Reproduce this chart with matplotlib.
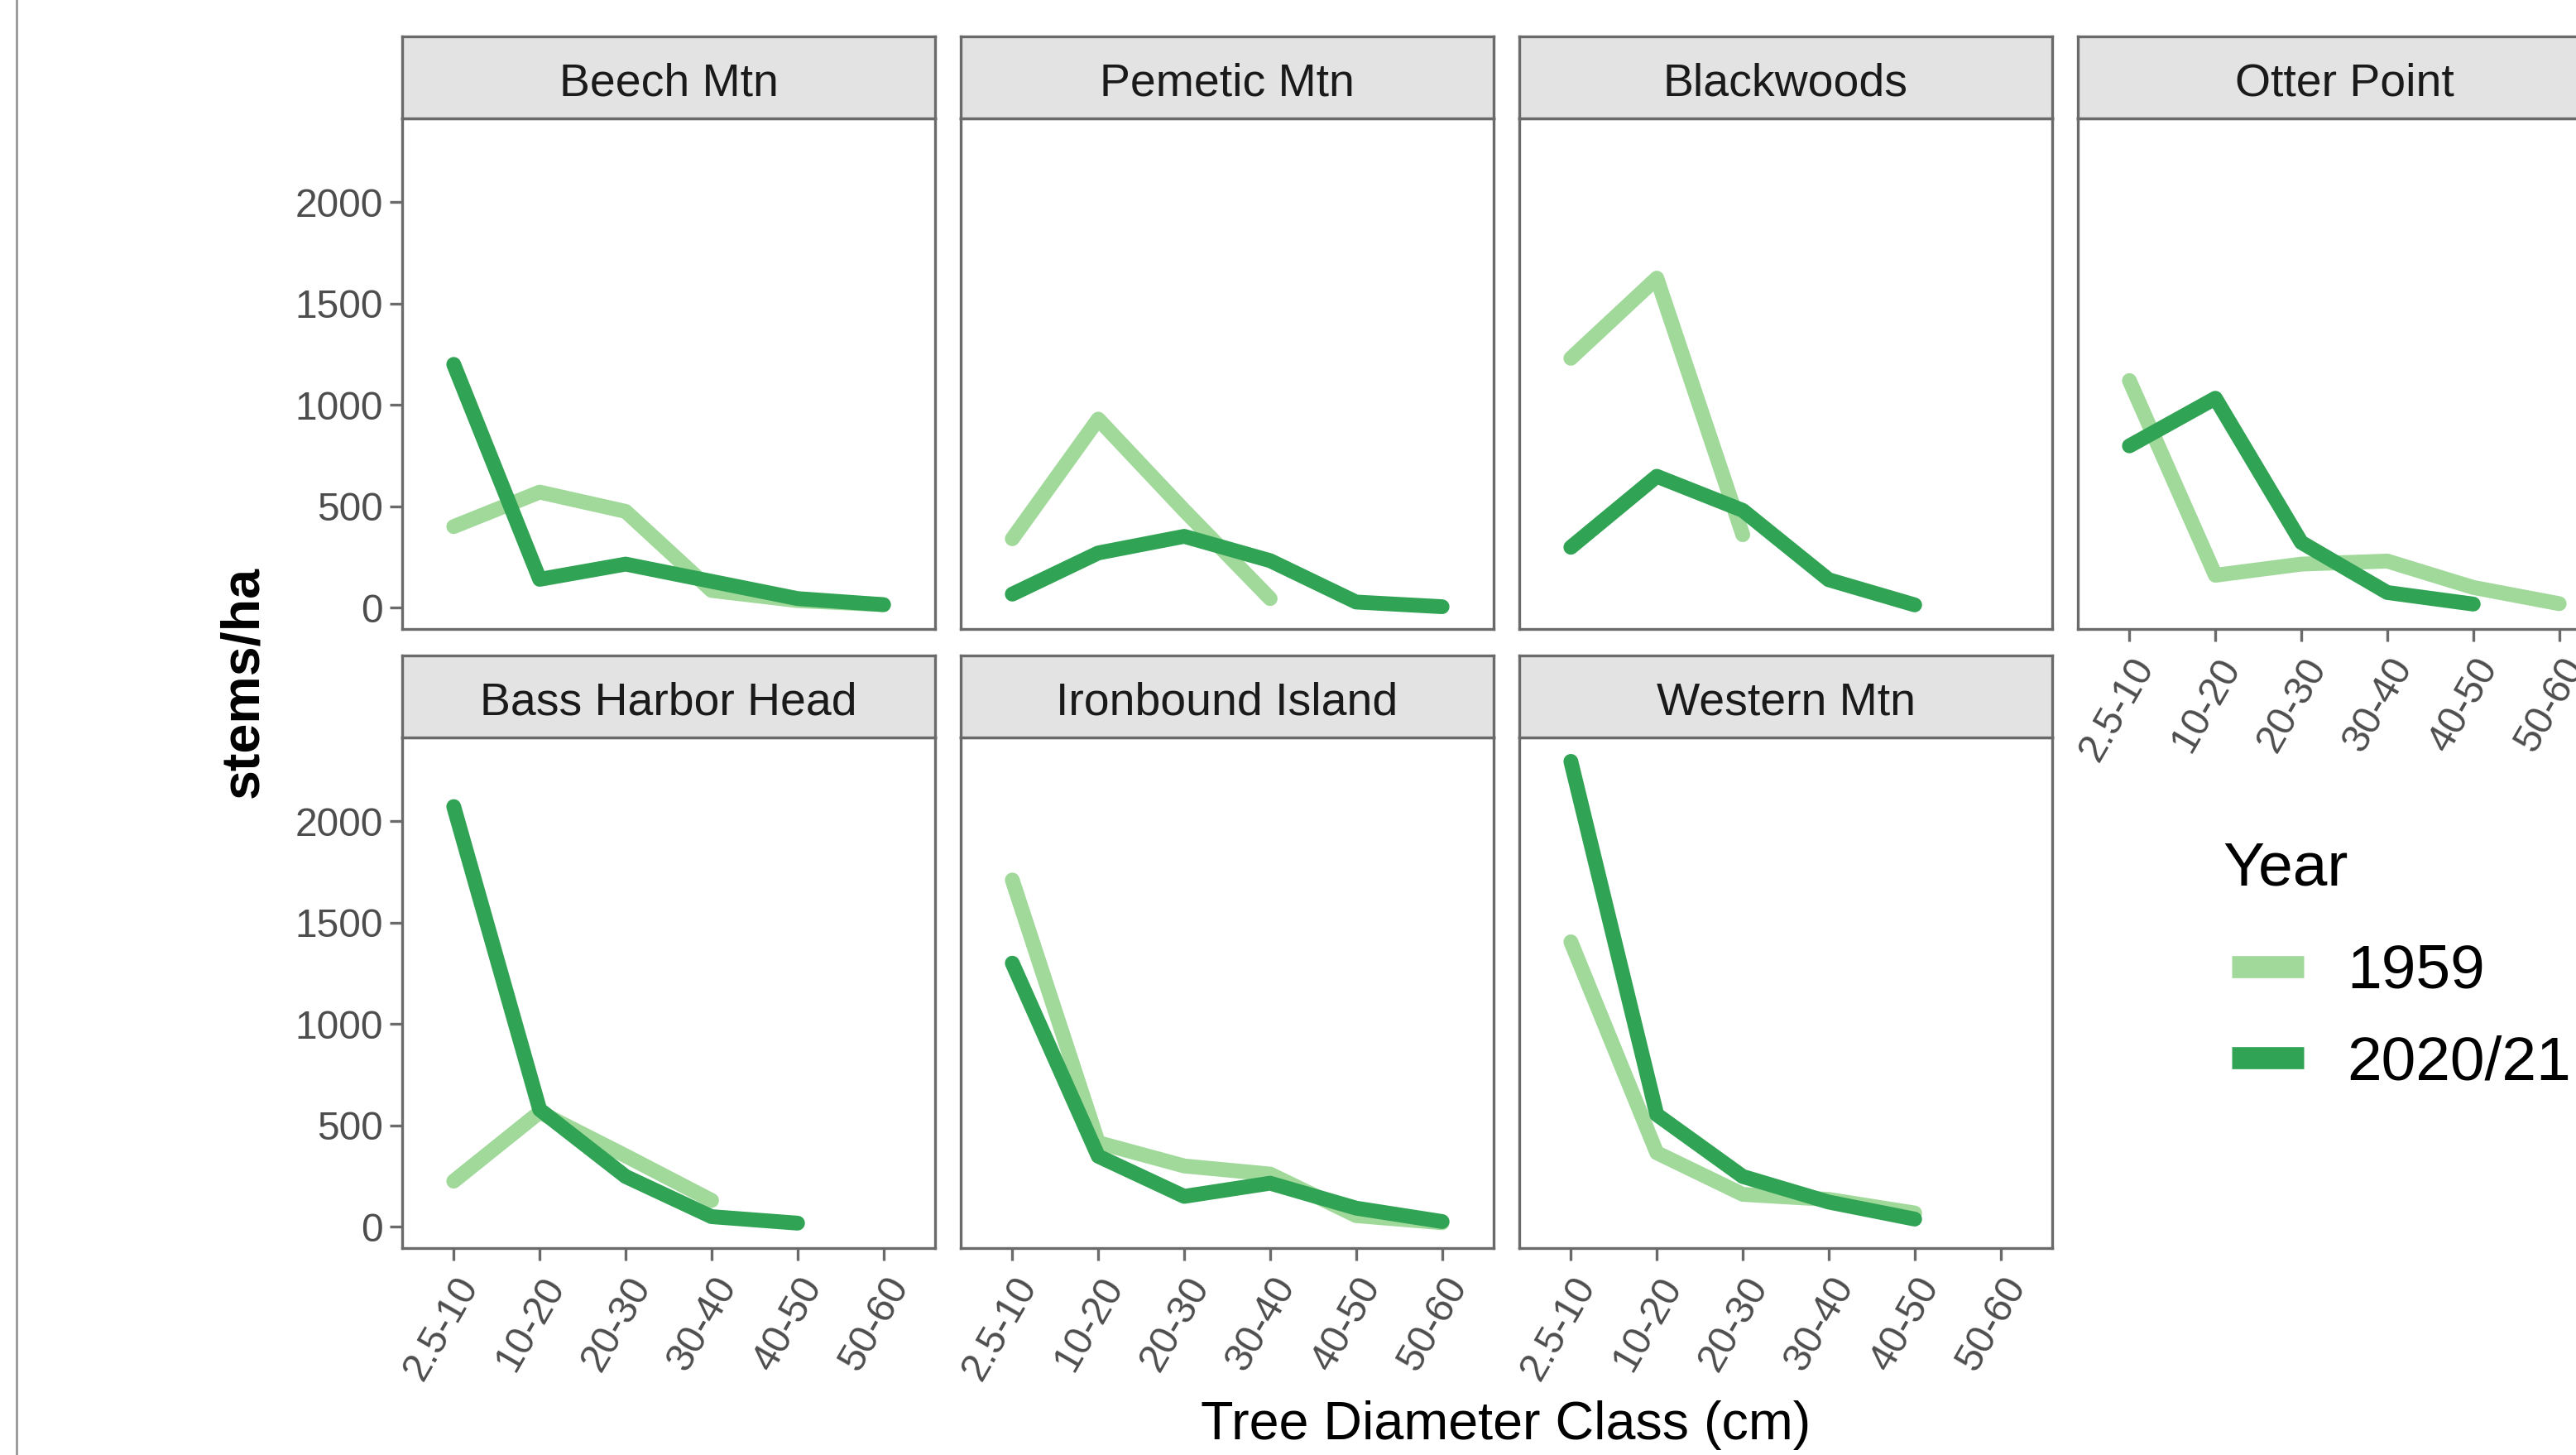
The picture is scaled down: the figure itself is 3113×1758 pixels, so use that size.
import numpy as np
import matplotlib
matplotlib.use("Agg")
import matplotlib.pyplot as plt
from matplotlib.lines import Line2D

plt.rcParams['font.family'] = ['Liberation Sans', 'DejaVu Sans']

# diameter classes and sites
classes = ["2.5-10", "10-20", "20-30", "30-40", "40-50", "50-60"]
sites = ["Beech Mtn", "Pemetic Mtn", "Blackwoods", "Otter Point",
         "Bass Harbor Head", "Ironbound Island", "Western Mtn"]
nan = np.nan

# stems/ha, 1959
y1959_beech = [400, 570, 475, 85, 35, 15]
y1959_pemetic = [340, 930, 480, 45, nan, nan]
y1959_blackwoods = [1230, 1625, 360, nan, nan, nan]
y1959_otter = [1120, 160, 215, 230, 100, 20]
y1959_bass = [225, 565, 350, 130, nan, nan]
y1959_ironbound = [1710, 415, 300, 260, 55, 20]
y1959_western = [1405, 365, 160, 135, 68, nan]

# stems/ha, 2020/21
y2020_beech = [1200, 140, 215, 130, 45, 15]
y2020_pemetic = [67, 270, 352, 232, 28, 5]
y2020_blackwoods = [298, 648, 480, 138, 14, nan]
y2020_otter = [798, 1033, 322, 75, 18, nan]
y2020_bass = [2072, 578, 248, 50, 18, nan]
y2020_ironbound = [1300, 348, 150, 215, 92, 26]
y2020_western = [2295, 553, 248, 122, 38, nan]

values_1959 = [y1959_beech, y1959_pemetic, y1959_blackwoods, y1959_otter,
               y1959_bass, y1959_ironbound, y1959_western]
values_2020 = [y2020_beech, y2020_pemetic, y2020_blackwoods, y2020_otter,
               y2020_bass, y2020_ironbound, y2020_western]
years = ["1959", "2020/21"]
colors = ["#a1d99b", "#31a354"]

W, H = 3113, 1758
fig = plt.figure(figsize=(W / 300, H / 300), dpi=300)

# panel geometry in pixels (last column runs past the right edge)
col_left = [486, 1161, 1836, 2511]
panel_w = 644
row_top = [143, 891]
panel_h = 617
strip_h = 99
edge = "#6A6A6A"

x = np.arange(len(classes))
lines = []
for i, site in enumerate(sites):
    r, c = divmod(i, 4)
    left = col_left[c] / W
    bottom = 1 - (row_top[r] + panel_h) / H
    ax = fig.add_axes([left, bottom, panel_w / W, panel_h / H])
    l1, = ax.plot(x, values_1959[i], color=colors[0], lw=4.3,
                  solid_capstyle="round", solid_joinstyle="round")
    l2, = ax.plot(x, values_2020[i], color=colors[1], lw=4.3,
                  solid_capstyle="round", solid_joinstyle="round")
    lines = [l1, l2]
    ax.set_xlim(-0.6, 5.6)
    ax.set_ylim(-105, 2413)
    ax.set_xticks(x)
    ax.set_yticks([0, 500, 1000, 1500, 2000])
    for s in ax.spines.values():
        s.set_color(edge)
        s.set_linewidth(0.8)
    ax.tick_params(colors=edge, width=0.8, length=3.6, pad=2,
                   labelcolor="#4D4D4D", labelsize=11.5)
    if c == 0:
        ax.set_yticklabels(["0", "500", "1000", "1500", "2000"])
    else:
        ax.tick_params(axis="y", left=False, labelleft=False)
    if r == 1 or c == 3:
        ax.set_xticklabels(classes, rotation=60, ha="right",
                           rotation_mode="anchor", va="top")
        ax.tick_params(axis="x", pad=3)
    else:
        ax.tick_params(axis="x", bottom=False, labelbottom=False)

    # facet strip
    sax = fig.add_axes([left, 1 - row_top[r] / H, panel_w / W, strip_h / H])
    sax.set_facecolor("#E3E3E3")
    sax.set_xticks([])
    sax.set_yticks([])
    for s in sax.spines.values():
        s.set_color(edge)
        s.set_linewidth(0.8)
    sax.text(0.5, 0.42, site, ha="center", va="center", fontsize=13.3,
             color="#1A1A1A", transform=sax.transAxes)

# axis titles
fig.text(294 / W, 1 - 824 / H, "stems/ha", rotation=90, ha="center",
         va="center", fontsize=15.5, fontweight="bold")
fig.text(1820 / W, 1 - 1722 / H, "Tree Diameter Class (cm)", ha="center",
         va="center", fontsize=15.5)

# legend
fig.text(2686 / W, 1 - 1070 / H, "Year", ha="left", va="baseline",
         fontsize=18)
handles = [Line2D([], [], color=ln.get_color(), lw=6.4,
                  solid_capstyle="butt") for ln in lines]
fig.legend(handles, years, loc="upper left",
           bbox_to_anchor=(2697 / W, 1 - 1140 / H), frameon=False,
           fontsize=18, borderpad=0, borderaxespad=0,
           handlelength=1.16, handletextpad=0.69, labelspacing=0.55)

# thin frame line on the left edge
fig.add_artist(Line2D([20 / W, 20 / W], [0, 1], color="#8C8C8C", lw=0.6))

fig.savefig("out.png", dpi=300)
